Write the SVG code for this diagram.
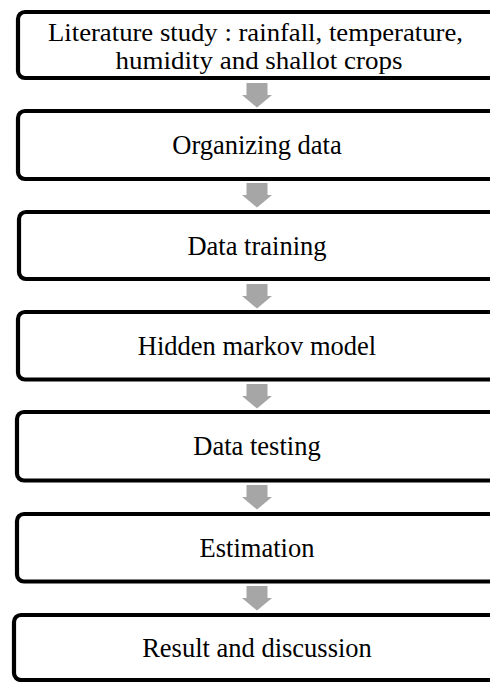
<svg xmlns="http://www.w3.org/2000/svg" width="490" height="682" viewBox="0 0 490 682">
<style>
.box{fill:#fff;stroke:#000;stroke-width:4.2}
.lbl{font-family:"Liberation Serif","Times New Roman",serif;font-size:26.5px;fill:#000;text-anchor:middle}
.two{font-size:24.8px}
.arr{fill:#a6a6a6;stroke:none}
</style>
<defs>
<path id="dn" d="M-10.5,0 H10.5 V12 H15 L0,24.5 L-15,12 H-10.5 Z"/>
</defs>
<rect width="490" height="682" fill="#fff"/>
<g id="connectors">
<use href="#dn" class="arr" x="257" y="83"/>
<use href="#dn" class="arr" x="257" y="183"/>
<use href="#dn" class="arr" x="257" y="284"/>
<use href="#dn" class="arr" x="257" y="384"/>
<use href="#dn" class="arr" x="257" y="485"/>
<use href="#dn" class="arr" x="257" y="586"/>
</g>
<g id="n1">
<rect class="box" x="18" y="12" width="490" height="66" rx="7"/>
<text class="lbl two" x="255.5" y="41" textLength="415" lengthAdjust="spacingAndGlyphs">Literature study : rainfall, temperature,</text>
<text class="lbl two" x="259" y="68.5" textLength="287" lengthAdjust="spacingAndGlyphs">humidity and shallot crops</text>
</g>
<g id="n2">
<rect class="box" x="18" y="111" width="490" height="68" rx="7"/>
<text class="lbl" x="257" y="154">Organizing data</text>
</g>
<g id="n3">
<rect class="box" x="19" y="212" width="490" height="67" rx="7"/>
<text class="lbl" x="257" y="254.5">Data training</text>
</g>
<g id="n4">
<rect class="box" x="18" y="312" width="490" height="67.5" rx="7"/>
<text class="lbl" x="257" y="355">Hidden markov model</text>
</g>
<g id="n5">
<rect class="box" x="17" y="412" width="490" height="68.5" rx="7"/>
<text class="lbl" x="257" y="455">Data testing</text>
</g>
<g id="n6">
<rect class="box" x="17" y="514" width="490" height="67.5" rx="7"/>
<text class="lbl" x="257" y="557">Estimation</text>
</g>
<g id="n7">
<rect class="box" x="14" y="615" width="490" height="65" rx="7"/>
<text class="lbl" x="257" y="657">Result and discussion</text>
</g>
</svg>
